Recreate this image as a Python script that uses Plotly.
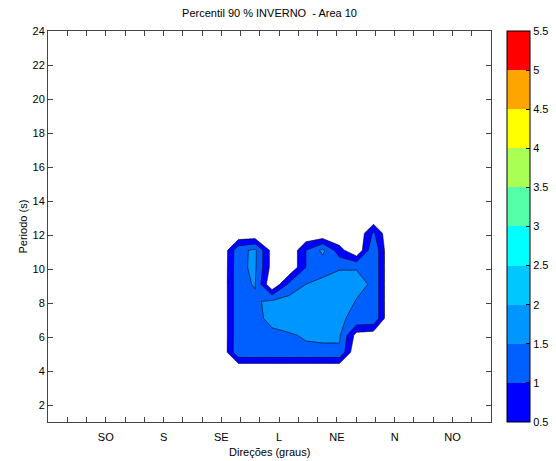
import plotly.graph_objects as go

# ---- data ----
direcoes = [9.0, 9.88, 10.75, 11.63, 12.51, 13.39, 14.26, 15.14, 16.02, 16.9, 17.77]
periodos = [4.1, 5.1, 6.1, 7.1, 8.1, 9.1, 10.1, 11.1, 12.1, 13.1]
hs = [
    [0, 0, 0, 0, 0, 0, 0, 0, 0, 0, 0],
    [0, 1.44, 1.44, 1.44, 1.44, 1.44, 1.44, 1.44, 0, 0, 0],
    [0, 1.42, 1.44, 1.46, 1.47, 1.53, 1.55, 1.55, 0.3, 0.2, 0],
    [0, 1.42, 1.45, 1.55, 1.65, 1.75, 1.7, 1.53, 1.45, 1.45, 0],
    [0, 1.42, 1.45, 1.58, 1.7, 1.8, 1.8, 1.7, 1.48, 1.45, 0],
    [0, 1.42, 1.52, 0.0, 1.1, 1.5, 1.7, 1.75, 1.6, 1.45, 0],
    [0, 1.4, 1.58, 0.3, 0, 1.0, 1.2, 1.45, 1.48, 1.45, 0],
    [0, 1.35, 1.6, 0.3, 0, 1.0, 1.62, 0.7, 0, 1.45, 0],
    [0, 0, 0, 0, 0, 0, 0, 0, 0, 1.08, 0],
    [0, 0, 0, 0, 0, 0, 0, 0, 0, 0, 0],
]
niveis = [0.5, 1, 1.5, 2, 2.5, 3, 3.5, 4, 4.5, 5, 5.5]
cores = ['#0000FF', '#0060FF', '#0096FF', '#00C8FF', '#00FFFF',
         '#55FFAA', '#AAFF55', '#FFFF00', '#FFA500', '#FF0000']
dir_ticks = [3, 6, 9, 12, 15, 18, 21]
dir_labels = ['SO', 'S', 'SE', 'L', 'NE', 'N', 'NO']
per_ticks = [2, 4, 6, 8, 10, 12, 14, 16, 18, 20, 22, 24]

n = len(cores)
cont_scale = [[0, 'white'], [0.5 / n, 'white']]
for k, c in enumerate(cores):
    lo = (k + 0.5) / n
    hi = min((k + 1.5) / n, 1)
    cont_scale += [[lo, c], [hi, c]]

cb_scale = []
for k, c in enumerate(cores):
    cb_scale += [[k / n, c], [(k + 1) / n, c]]

FONT = 'Liberation Sans, Arial, Helvetica, sans-serif'
W, H = 556, 461
L, R, T, B = 48, 491, 31, 422

fig = go.Figure()
fig.add_trace(go.Contour(
    x=direcoes, y=periodos, z=hs,
    autocontour=False,
    contours=dict(start=niveis[0], end=niveis[-2], size=0.5, coloring='fill', showlines=True),
    colorscale=cont_scale,
    line=dict(color='black', width=0.6, smoothing=0),
    showscale=False, hoverinfo='skip',
))
fig.add_trace(go.Scatter(
    x=[None], y=[None], mode='markers', showlegend=False, hoverinfo='skip',
    marker=dict(color=[niveis[0]], colorscale=cb_scale, cmin=niveis[0], cmax=niveis[-1],
                showscale=True,
                colorbar=dict(
                    x=(507 - L) / (R - L), xanchor='left', xpad=0, y=0.5, yanchor='middle', ypad=0,
                    len=1, lenmode='fraction', thickness=23, thicknessmode='pixels',
                    outlinecolor='black', outlinewidth=1,
                    tickvals=niveis, ticktext=[f'{v:g}' for v in niveis],
                    ticks='inside', ticklen=4, tickcolor='black',
                    tickfont=dict(family=FONT, size=11, color='black'),
                )),
))

fig.update_layout(
    width=W, height=H,
    margin=dict(l=L, r=W - R, t=T, b=H - B, autoexpand=False),
    paper_bgcolor='white', plot_bgcolor='white',
    font=dict(family=FONT, size=11, color='black'),
    title=dict(text='Percentil 90 % INVERNO  - Area 10', x=(L + R) / 2 / W, xanchor='center',
               y=1 - 13 / H, yanchor='middle', font=dict(size=11)),
    showlegend=False,
    annotations=[
        dict(text='Direções (graus)', xref='paper', yref='paper',
             x=0.5, y=-(452 - B) / (B - T), xanchor='center', yanchor='middle',
             showarrow=False, font=dict(size=11)),
        dict(text='Periodo (s)', xref='paper', yref='paper', textangle=-90,
             x=(22 - L) / (R - L), y=0.5, xanchor='center', yanchor='middle',
             showarrow=False, font=dict(size=11)),
    ],
)
fig.update_xaxes(
    range=[0, 23], tickmode='array', tickvals=list(range(24)),
    ticktext=[dir_labels[dir_ticks.index(i)] if i in dir_ticks else '' for i in range(24)],
    ticks='inside', ticklen=5, tickcolor='#444', mirror='ticks',
    showline=True, linecolor='#444', linewidth=1, showgrid=False, zeroline=False,
    automargin=False, ticklabelstandoff=5, tickfont=dict(size=11),
)
fig.update_yaxes(
    range=[1, 24], tickmode='array', tickvals=per_ticks,
    ticks='inside', ticklen=5, tickcolor='#444', mirror='ticks',
    showline=True, linecolor='#444', linewidth=1, showgrid=False, zeroline=False,
    automargin=False, tickfont=dict(size=11),
)
fig.write_html('out.html', config={'displayModeBar': False},
               post_script="document.body.style.margin='0';document.body.style.overflow='hidden';")
